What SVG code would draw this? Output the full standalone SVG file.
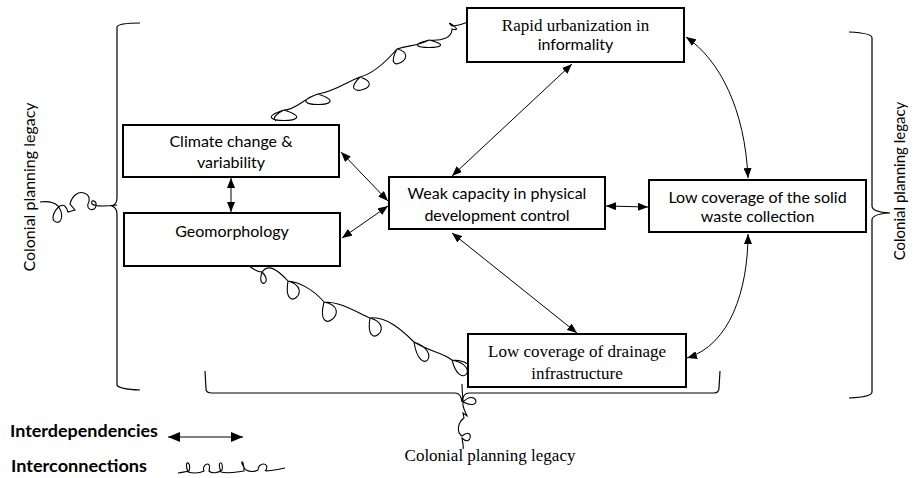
<svg xmlns="http://www.w3.org/2000/svg" width="920" height="478" viewBox="0 0 920 478">
<defs>
<marker id="ah" viewBox="0 0 10 8" refX="10" refY="4" markerUnits="userSpaceOnUse" markerWidth="10" markerHeight="8" orient="auto-start-reverse"><path d="M0,0 L10,4 L0,8 z" fill="#000"/></marker>
<marker id="ahL" viewBox="0 0 12 10" refX="12" refY="5" markerUnits="userSpaceOnUse" markerWidth="12" markerHeight="10" orient="auto-start-reverse"><path d="M0,0 L12,5 L0,10 z" fill="#000"/></marker>
<style>
.box{fill:#fff;stroke:#000;stroke-width:2}
.sans{font-family:Lato,"Open Sans","DejaVu Sans",sans-serif;font-size:16px;fill:#000}
.serif{font-family:"Liberation Serif","Times New Roman",serif;font-size:17px;fill:#000}
.bold{font-family:Lato,"Open Sans","DejaVu Sans",sans-serif;font-size:17px;font-weight:bold;fill:#000}
.arr{fill:none;stroke:#000;stroke-width:1;marker-start:url(#ah);marker-end:url(#ah)}
.sq{fill:none;stroke:#000;stroke-width:1.1}
.br{fill:none;stroke:#000;stroke-width:1.2}
</style>
</defs>
<rect width="920" height="478" fill="#fff"/>

<g id="brackets">
<path class="br" d="M140,23 Q118,23 117,27 L117,198 Q117,204 112,206 Q117,208 117,214 L117,385 Q118,389 140,390"/>
<path class="br" d="M849,32 Q872,33 872,38 L872,206 Q872,212 890,213 Q872,214 872,220 L872,392 Q872,397 849,398"/>
<path class="br" d="M205,371 L206,389 Q206,393 212,393 L455,393 Q461,393 462,402 Q463,393 469,393 L714,393 Q719,393 719,388 L720,371"/>
</g>

<g id="connectors">
<path class="arr" d="M231,178 L231,212"/>
<path class="arr" d="M341,152 L388,201"/>
<path class="arr" d="M342,238 L388,206"/>
<path class="arr" d="M572,64 L452,176"/>
<path class="arr" d="M606,206 L648,207"/>
<path class="arr" d="M686,37 C720,60 745,110 748,178"/>
<path class="arr" d="M452,233 L577,333"/>
<path class="arr" d="M748,234 C748,290 730,345 687,358"/>
</g>

<g id="interconnections">
<path class="sq" d="M276,121 C272,118 276,114 284,110 c44,14 -44,14 0,0 C296,110 304,98 318,94 c42,14 -42,14 0,0 C334,92 346,82 360,77 c30,10 -24,24 0,0 C372,74 384,64 397,49 c26,6 -16,30 0,0 C410,45 418,46 429,40 c40,10 -40,10 0,0 C442,41 452,38 452,29 c14,4 -10,-12 0,-3 C458,26 462,24 468,22"/>
<path class="sq" d="M248,265 C254,270 258,272 262,272 c12,12 -6,18 0,0 C268,264 276,268 288,281 c28,8 -6,36 0,0 C298,282 312,288 324,302 c32,6 -10,40 0,0 C342,302 356,312 370,318 c28,8 -6,36 0,0 C386,316 402,330 414,342 c30,10 6,38 0,0 C430,352 442,352 452,360 c30,6 8,32 0,0 C462,360 468,362 471,368"/>
<path class="sq" d="M40,202 C48,201 54,202 58,206 C64,214 62,224 56,222 C50,220 54,210 60,206 C64,204 66,206 68,212 L75,210 L70,204 C72,196 78,191 84,193 C90,195 90,200 88,204 C86,210 95,212 96,206 C97,200 90,199 92,204 C96,207 108,206 117,205"/>
<path class="sq" d="M462,384 C462,392 463,398 463,402 c14,-14 20,10 0,0 C462,408 466,412 467,416 l-4,-3 1,5 C458,422 456,432 462,436 c12,-10 10,12 0,2 C462,440 464,445 463,449"/>
</g>

<g id="n-rapid"><rect class="box" x="467" y="8" width="217" height="54"/>
<text class="serif" x="575.5" y="31" text-anchor="middle">Rapid urbanization in</text>
<text class="sans" x="575.5" y="50" text-anchor="middle">informality</text></g>

<g id="n-climate"><rect class="box" x="123" y="125" width="216" height="52"/>
<text class="sans" x="231" y="147" text-anchor="middle">Climate change &amp;</text>
<text class="sans" x="231" y="168" text-anchor="middle">variability</text></g>

<g id="n-geo"><rect class="box" x="124" y="213" width="216" height="53"/>
<text class="sans" x="232" y="237" text-anchor="middle">Geomorphology</text></g>

<g id="n-weak"><rect class="box" x="389" y="177" width="216" height="52"/>
<text class="sans" x="497" y="199" text-anchor="middle">Weak capacity in physical</text>
<text class="sans" x="497" y="221" text-anchor="middle">development control</text></g>

<g id="n-solid"><rect class="box" x="649" y="180" width="217" height="52"/>
<text class="sans" x="757.5" y="203" text-anchor="middle">Low coverage of the solid</text>
<text class="sans" x="757.5" y="222" text-anchor="middle">waste collection</text></g>

<g id="n-drain"><rect class="box" x="468" y="334" width="218" height="53"/>
<text class="serif" x="577" y="357" text-anchor="middle">Low coverage of drainage</text>
<text class="serif" x="577" y="379" text-anchor="middle">infrastructure</text></g>

<g id="labels">
<text class="sans" transform="translate(35,187) rotate(-90)" text-anchor="middle">Colonial planning legacy</text>
<text class="sans" style="font-size:15px" transform="translate(905,181) rotate(-90)" text-anchor="middle">Colonial planning legacy</text>
<text class="serif" x="490" y="461" text-anchor="middle">Colonial planning legacy</text>
</g>

<g id="legend">
<text class="bold" x="10" y="437" textLength="148" lengthAdjust="spacingAndGlyphs">Interdependencies</text>
<path d="M168,437 L243,437" fill="none" stroke="#000" stroke-width="1" marker-start="url(#ahL)" marker-end="url(#ahL)"/>
<text class="bold" x="11" y="472" textLength="136" lengthAdjust="spacingAndGlyphs">Interconnections</text>
<path class="sq" d="M178,473 C183,472 186,472 189,471 c3,-10 -6,-12 -1,1 C196,474 200,473 204,471 c-3,-6 8,-12 5,0 C212,474 218,473 222,470 c2,-10 -6,-10 -1,2 C228,474 236,472 244,471 c0,-14 -6,-10 2,-1 C250,472 254,472 258,470 c0,-8 12,-8 8,0 C262,472 276,470 285,468"/>
</g>
</svg>
